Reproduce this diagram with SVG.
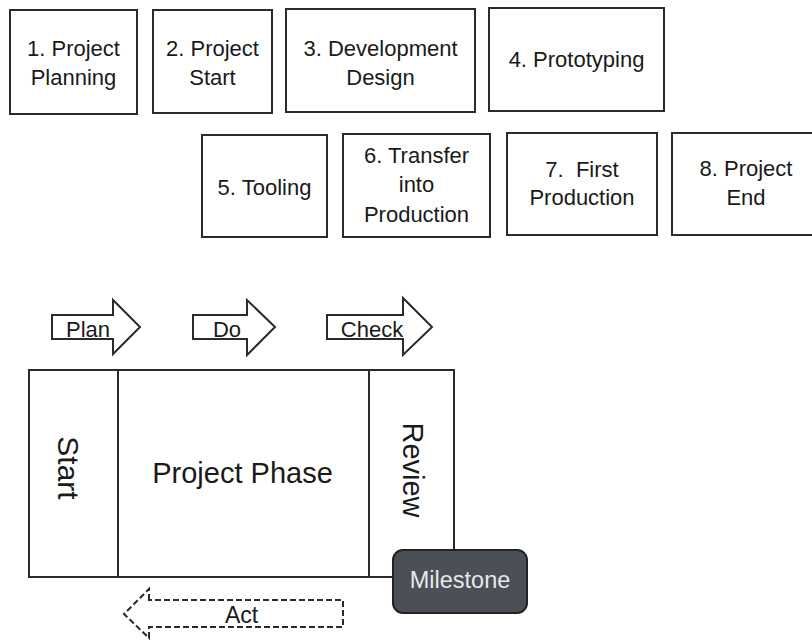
<svg xmlns="http://www.w3.org/2000/svg" width="812" height="641" viewBox="0 0 812 641">
<style>
.box{fill:#fff;stroke:#2b2b2b;stroke-width:2}
.t{font-family:"Liberation Sans",Arial,sans-serif;font-size:22px;fill:#1a1a1a;text-anchor:middle;white-space:pre}
.big{font-size:30px}
.arr{fill:#fff;stroke:#2b2b2b;stroke-width:2;stroke-linejoin:miter}
.dash{fill:#fff;stroke:#2b2b2b;stroke-width:2;stroke-dasharray:6 3}
</style>
<rect width="812" height="641" fill="#fff"/>
<g id="steps">
<g id="step1"><rect class="box" x="10" y="10" width="127" height="104"/><text class="t" x="73.5" y="56">1. Project</text><text class="t" x="73.5" y="85">Planning</text></g>
<g id="step2"><rect class="box" x="153" y="10" width="119" height="103"/><text class="t" x="212.5" y="56">2. Project</text><text class="t" x="212.5" y="85">Start</text></g>
<g id="step3"><rect class="box" x="286" y="9" width="189" height="103"/><text class="t" x="380.5" y="56">3. Development</text><text class="t" x="380.5" y="85">Design</text></g>
<g id="step4"><rect class="box" x="489" y="8" width="175" height="103"/><text class="t" x="576.5" y="67">4. Prototyping</text></g>
<g id="step5"><rect class="box" x="202" y="135" width="125" height="102"/><text class="t" x="264.5" y="195">5. Tooling</text></g>
<g id="step6"><rect class="box" x="343" y="134" width="147" height="103"/><text class="t" x="416.5" y="163">6. Transfer</text><text class="t" x="416.5" y="192">into</text><text class="t" x="416.5" y="222">Production</text></g>
<g id="step7"><rect class="box" x="507" y="133" width="150" height="102"/><text class="t" x="582" y="177">7.  First</text><text class="t" x="582" y="205">Production</text></g>
<g id="step8"><rect class="box" x="672" y="133" width="144" height="102"/><text class="t" x="746" y="176">8. Project</text><text class="t" x="746" y="205">End</text></g>
</g>
<g id="connectors">
<g id="plan"><path class="arr" d="M52,315 H113 V300 L140,327 L113,354 V339 H52 Z"/><text class="t" x="88" y="337">Plan</text></g>
<g id="do"><path class="arr" d="M193,315 H247 V300 L275,327 L247,355 V339 H193 Z"/><text class="t" x="227" y="337">Do</text></g>
<g id="check"><path class="arr" d="M327,315 H403 V298 L432,327 L403,355 V339 H327 Z"/><text class="t" x="372" y="337">Check</text></g>
<g id="act"><path class="dash" d="M149,600 V589 L124,614 L149,638 V627 H343 V600 Z"/><text class="t" x="241.5" y="623" style="font-size:23px">Act</text></g>
</g>
<g id="phase">
<rect class="box" x="29" y="370" width="425" height="207"/>
<line x1="118" y1="370" x2="118" y2="577" stroke="#2b2b2b" stroke-width="2"/>
<line x1="369" y1="370" x2="369" y2="577" stroke="#2b2b2b" stroke-width="2"/>
<g id="start"><text class="t big" transform="translate(58,468) rotate(90)">Start</text></g>
<g id="project-phase"><text class="t" x="242.5" y="483" style="font-size:29px">Project Phase</text></g>
<g id="review"><text class="t" transform="translate(403,470) rotate(90)" style="font-size:29px">Review</text></g>
</g>
<g id="milestone"><rect x="393" y="550" width="134" height="63" rx="10" ry="10" fill="#4b5058" stroke="#222" stroke-width="2"/><text class="t" x="460" y="588" style="font-size:23.5px;fill:#e8e8e8">Milestone</text></g>
</svg>
